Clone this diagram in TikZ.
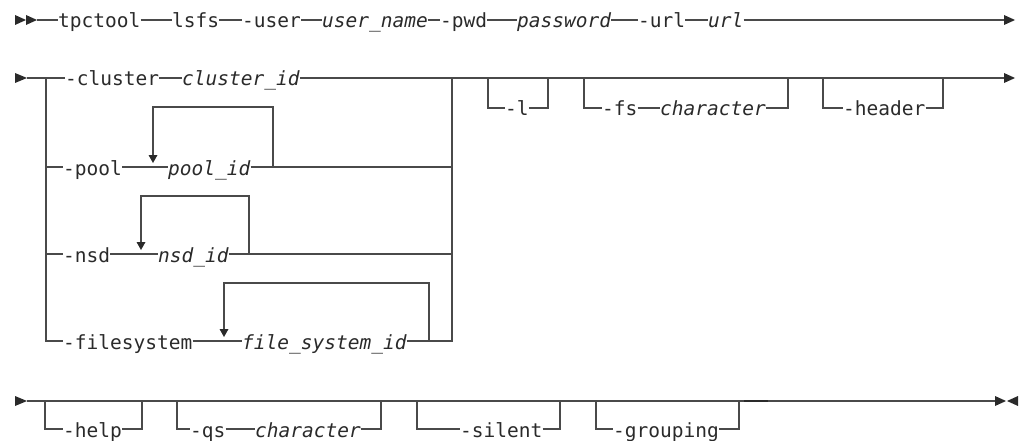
\documentclass[tikz,border=0pt]{standalone}
\usepackage{fontspec}
\newfontfamily\dmono{DejaVu Sans Mono}
\definecolor{lncol}{HTML}{4A4A4A}
\definecolor{txtcol}{HTML}{2A2A2A}
\begin{document}
\begin{tikzpicture}[x=1pt,y=-1pt,
  ln/.style={line width=1.4pt, draw=lncol},
  tri/.style={fill=txtcol},
  txt/.style={inner sep=0pt, anchor=base west, text=txtcol, font=\dmono\fontsize{19.5}{22}\selectfont},
  var/.style={txt, font=\dmono\itshape\fontsize{19.5}{22}\selectfont}]
\useasboundingbox (0,0) rectangle (1024,441);
% row coordinates
\coordinate (r1) at (0,20);
\coordinate (r2) at (0,78);
\coordinate (b2) at (0,108);
\coordinate (rp) at (0,167);
\coordinate (rn) at (0,254);
\coordinate (rf) at (0,341);
\coordinate (r3) at (0,401);
\coordinate (b3) at (0,429);

% ---------- Row 1 ----------
\fill[tri] (15,15) -- (26,20) -- (15,25) -- cycle;
\fill[tri] (26,15) -- (37,20) -- (26,25) -- cycle;
\coordinate (s1) at (37,20);
\node[txt] (tpc) at (58,28) {tpctool};
\node[txt] (lsfs) at (172,28) {lsfs};
\node[txt] (user) at (242,28) {-user};
\node[var] (uname) at (322,28) {user\_name};
\node[txt] (pwd) at (440,28) {-pwd};
\node[var] (passwd) at (517,28) {password};
\node[txt] (url) at (638,28) {-url};
\node[var] (urlv) at (708,28) {url};
\coordinate (e1) at (1004,20);
\draw[ln] (s1) -- (tpc.west|-r1);
\draw[ln] (tpc.east|-r1) -- (lsfs.west|-r1);
\draw[ln] (lsfs.east|-r1) -- (user.west|-r1);
\draw[ln] (user.east|-r1) -- (uname.west|-r1);
\draw[ln] (uname.east|-r1) -- (pwd.west|-r1);
\draw[ln] (pwd.east|-r1) -- (passwd.west|-r1);
\draw[ln] (passwd.east|-r1) -- (url.west|-r1);
\draw[ln] (url.east|-r1) -- (urlv.west|-r1);
\draw[ln] (urlv.east|-r1) -- (e1);
\fill[tri] (1004,15) -- (1015,20) -- (1004,25) -- cycle;

% ---------- Row 2 : choice group ----------
\fill[tri] (15,73) -- (27,78) -- (15,83) -- cycle;
\coordinate (s2) at (27,78);
\coordinate (jl) at (46,78);
\coordinate (jr) at (452,78);
\node[txt] (cluster) at (65,86) {-cluster};
\node[var] (clid) at (182,86) {cluster\_id};
\coordinate (e2) at (1004,78);
\draw[ln] (s2) -- (cluster.west|-r2);
\draw[ln] (cluster.east|-r2) -- (clid.west|-r2);
\draw[ln] (clid.east|-r2) -- (e2);
\fill[tri] (1004,73) -- (1015,78) -- (1004,83) -- cycle;

% pool
\node[txt] (pool) at (63,175) {-pool};
\node[var] (poolid) at (168,175) {pool\_id};
\draw[ln] (jl|-rp) -- (pool.west|-rp);
\draw[ln] (pool.east|-rp) -- (poolid.west|-rp);
\draw[ln] (poolid.east|-rp) -- (jr|-rp);
\draw[ln] (273,167) -- (273,107) -- (153,107) -- (153,155);
\fill[tri] (148.5,155) -- (157.5,155) -- (153,163) -- cycle;

% nsd
\node[txt] (nsd) at (63,262) {-nsd};
\node[var] (nsdid) at (158,262) {nsd\_id};
\draw[ln] (jl|-rn) -- (nsd.west|-rn);
\draw[ln] (nsd.east|-rn) -- (nsdid.west|-rn);
\draw[ln] (nsdid.east|-rn) -- (jr|-rn);
\draw[ln] (249,254) -- (249,196) -- (141,196) -- (141,242);
\fill[tri] (136.5,242) -- (145.5,242) -- (141,250) -- cycle;

% filesystem
\node[txt] (fsys) at (63,349) {-filesystem};
\node[var] (fsid) at (242,349) {file\_system\_id};
\draw[ln] (jl) -- (jl|-rf) -- (fsys.west|-rf);
\draw[ln] (fsys.east|-rf) -- (fsid.west|-rf);
\draw[ln] (fsid.east|-rf) -- (jr|-rf) -- (jr);
\draw[ln] (429,341) -- (429,283) -- (224,283) -- (224,329);
\fill[tri] (219.5,329) -- (228.5,329) -- (224,337) -- cycle;

% optional -l
\node[txt] (optl) at (505,116) {-l};
\draw[ln] (488,78) -- (488,108) -- (optl.west|-b2);
\draw[ln] (optl.east|-b2) -- (548,108) -- (548,78);
% optional -fs
\node[txt] (optfs) at (602,116) {-fs};
\node[var] (fsch) at (660,116) {character};
\draw[ln] (584,78) -- (584,108) -- (optfs.west|-b2);
\draw[ln] (optfs.east|-b2) -- (fsch.west|-b2);
\draw[ln] (fsch.east|-b2) -- (788,108) -- (788,78);
% optional -header
\node[txt] (hdr) at (843,116) {-header};
\draw[ln] (823,78) -- (823,108) -- (hdr.west|-b2);
\draw[ln] (hdr.east|-b2) -- (943,108) -- (943,78);

% ---------- Row 3 ----------
\fill[tri] (15,396) -- (27,401) -- (15,406) -- cycle;
\coordinate (s3) at (27,401);
\coordinate (e3) at (995,401);
\draw[ln] (s3) -- (e3);
\node[txt] (help) at (63,437) {-help};
\draw[ln] (45,401) -- (45,429) -- (help.west|-b3);
\draw[ln] (help.east|-b3) -- (142,429) -- (142,401);
\node[txt] (qs) at (190,437) {-qs};
\node[var] (qsch) at (255,437) {character};
\draw[ln] (177,401) -- (177,429) -- (qs.west|-b3);
\draw[ln] (qs.east|-b3) -- (qsch.west|-b3);
\draw[ln] (qsch.east|-b3) -- (381,429) -- (381,401);
\node[txt] (silent) at (460,437) {-silent};
\draw[ln] (417,401) -- (417,429) -- (silent.west|-b3);
\draw[ln] (silent.east|-b3) -- (560,429) -- (560,401);
\node[txt] (grp) at (613,437) {-grouping};
\draw[ln] (596,401) -- (596,429) -- (grp.west|-b3);
\draw[ln] (grp.east|-b3) -- (739,429) -- (739,401);
\draw[line width=2.2pt, draw=txtcol] (744,401) -- (768,401);
\fill[tri] (995,396) -- (1006,401) -- (995,406) -- cycle;
\fill[tri] (1018,396) -- (1007,401) -- (1018,406) -- cycle;
\end{tikzpicture}
\end{document}
